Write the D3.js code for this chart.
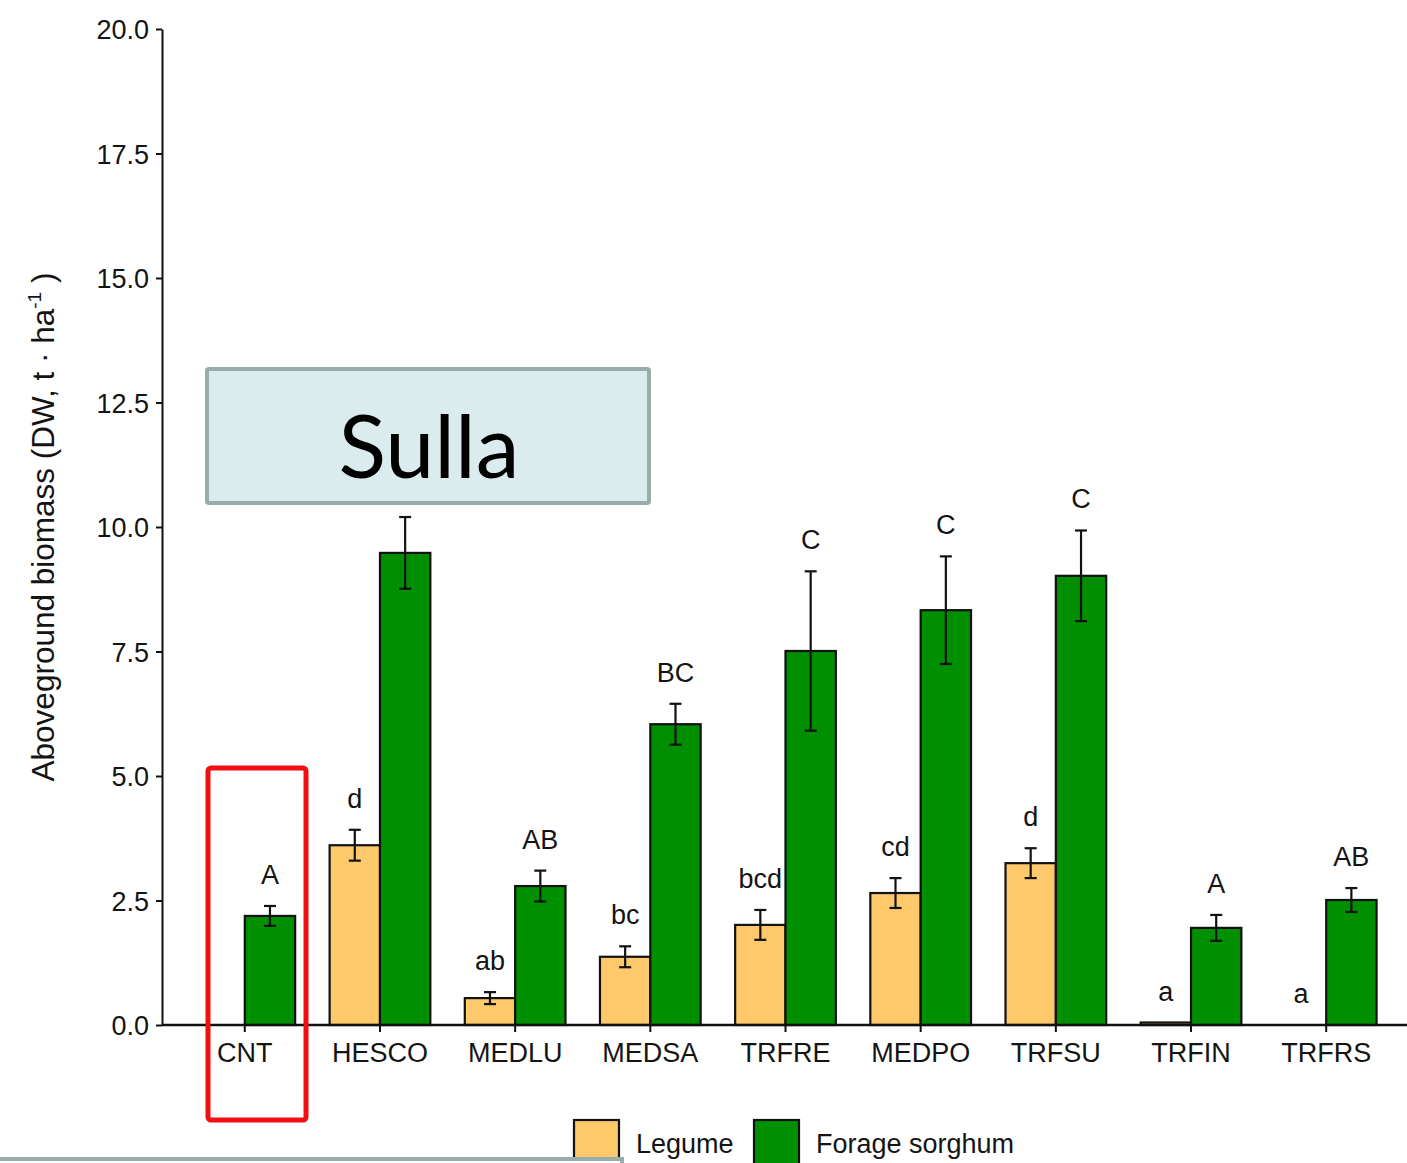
<!DOCTYPE html>
<html>
<head>
<meta charset="utf-8">
<script src="https://cdn.jsdelivr.net/npm/d3@7"></script>
<style>
  html, body { margin: 0; padding: 0; background: #fff; }
  svg { display: block; }
</style>
</head>
<body>
<svg id="chart" width="1407" height="1163"></svg>
<script>
// Aboveground biomass of legume and forage sorghum per intercrop treatment
const categories = ["CNT", "HESCO", "MEDLU", "MEDSA", "TRFRE", "MEDPO", "TRFSU", "TRFIN", "TRFRS"];
const legumeMean = [null, 3.61, 0.54, 1.37, 2.01, 2.65, 3.25, 0.05, 0];
const legumeSE = [null, 0.31, 0.12, 0.21, 0.30, 0.30, 0.30, null, null];
const legumeLetters = ["", "d", "ab", "bc", "bcd", "cd", "d", "a", "a"];
const sorghumMean = [2.19, 9.48, 2.79, 6.04, 7.51, 8.33, 9.02, 1.95, 2.51];
const sorghumSE = [0.20, 0.72, 0.31, 0.41, 1.60, 1.08, 0.91, 0.26, 0.24];
const sorghumLetters = ["A", "", "AB", "BC", "C", "C", "C", "A", "AB"];
const yTicks = [0, 2.5, 5, 7.5, 10, 12.5, 15, 17.5, 20];
const seriesNames = ["Legume", "Forage sorghum"];
const seriesColors = ["#fdc96b", "#008f00"];

const svg = d3.select("#chart");
const font = "'Liberation Sans', Arial, sans-serif";
const textColor = "#141414";

const x = d3.scaleBand()
  .domain(categories)
  .range([162, 1409])
  .paddingInner(0.255)
  .paddingOuter(0.24);
const sub = d3.scaleBand().domain([0, 1]).range([0, x.bandwidth()]);
const y = d3.scaleLinear().domain([0, 20]).range([1025, 29]);

// rows of bar records
const rows = [];
categories.forEach((c, i) => {
  rows.push({ cat: c, s: 0, mean: legumeMean[i], se: legumeSE[i], letter: legumeLetters[i] });
  rows.push({ cat: c, s: 1, mean: sorghumMean[i], se: sorghumSE[i], letter: sorghumLetters[i] });
});

// y axis
const yAxis = d3.axisLeft(y).tickValues(yTicks).tickFormat(d3.format(".1f")).tickSize(6).tickSizeOuter(0);
const gy = svg.append("g").attr("transform", "translate(162,0)").call(yAxis);
gy.select(".domain").attr("stroke", "#111").attr("stroke-width", 2);
gy.selectAll(".tick line").attr("stroke", "#111").attr("stroke-width", 2);
gy.selectAll(".tick text")
  .attr("font-family", font).attr("font-size", 27).attr("fill", textColor)
  .attr("x", -13).attr("dy", "0.36em");

// bars
const bars = rows.filter(d => d.mean !== null && d.mean > 0);
svg.append("g").selectAll("rect").data(bars).join("rect")
  .attr("x", d => x(d.cat) + sub(d.s))
  .attr("y", d => y(d.mean))
  .attr("width", sub.bandwidth())
  .attr("height", d => y(0) - y(d.mean))
  .attr("fill", d => seriesColors[d.s])
  .attr("stroke", "#111")
  .attr("stroke-width", 2.2);

// error bars
const errs = rows.filter(d => d.se !== null && d.mean !== null);
const eg = svg.append("g").attr("stroke", "#111").attr("stroke-width", 2.2);
errs.forEach(d => {
  const cx = x(d.cat) + sub(d.s) + sub.bandwidth() / 2;
  const y1 = y(d.mean + d.se), y2 = y(d.mean - d.se);
  eg.append("line").attr("x1", cx).attr("x2", cx).attr("y1", y1).attr("y2", y2);
  eg.append("line").attr("x1", cx - 6).attr("x2", cx + 6).attr("y1", y1).attr("y2", y1);
  eg.append("line").attr("x1", cx - 6).attr("x2", cx + 6).attr("y1", y2).attr("y2", y2);
});

// significance letters
svg.append("g").selectAll("text").data(rows.filter(d => d.letter)).join("text")
  .attr("x", d => x(d.cat) + sub(d.s) + sub.bandwidth() / 2)
  .attr("y", d => y((d.mean || 0) + (d.se || 0)) - 22)
  .attr("text-anchor", "middle")
  .attr("font-family", font).attr("font-size", 27).attr("fill", textColor)
  .text(d => d.letter);

// x axis
const xAxis = d3.axisBottom(x).tickSize(7).tickSizeOuter(0);
const gx = svg.append("g").attr("transform", "translate(0,1025)").call(xAxis);
gx.select(".domain").attr("d", "M162,0H1407").attr("stroke", "#111").attr("stroke-width", 2.4);
gx.selectAll(".tick line").attr("stroke", "#111").attr("stroke-width", 2);
gx.selectAll(".tick text")
  .attr("font-family", font).attr("font-size", 27).attr("fill", textColor)
  .attr("y", 18).attr("dy", "0.71em");

// y axis title
const yt = svg.append("text")
  .attr("transform", "translate(54,527) rotate(-90)")
  .attr("text-anchor", "middle")
  .attr("font-family", font).attr("font-size", 31.5).attr("fill", textColor);
yt.append("tspan").text("Aboveground biomass (DW, t · ha");
yt.append("tspan").attr("font-size", 19).attr("dy", -13).text("-1");
yt.append("tspan").attr("dy", 13).text(" )");

// title box
svg.append("rect")
  .attr("x", 207).attr("y", 369).attr("width", 442).attr("height", 134)
  .attr("fill", "#daecee").attr("stroke", "#9aabab").attr("stroke-width", 4).attr("rx", 2);
svg.append("text")
  .attr("x", 429).attr("y", 478)
  .attr("text-anchor", "middle")
  .attr("font-family", "Lato, 'Open Sans', sans-serif").attr("font-size", 88).attr("fill", "#000")
  .text("Sulla");

// highlight frame around the control
svg.append("rect")
  .attr("x", 208).attr("y", 768).attr("width", 98).attr("height", 352)
  .attr("fill", "none").attr("stroke", "#f01010").attr("stroke-width", 5).attr("rx", 3);

// legend
const lg = svg.append("g");
const legendX = [574, 754];
seriesNames.forEach((n, i) => {
  lg.append("rect")
    .attr("x", legendX[i]).attr("y", 1120).attr("width", 45).attr("height", 50)
    .attr("fill", seriesColors[i]).attr("stroke", "#111").attr("stroke-width", 2.2);
  lg.append("text")
    .attr("x", legendX[i] + 62).attr("y", 1143).attr("dy", "0.36em")
    .attr("font-family", font).attr("font-size", 27).attr("fill", textColor)
    .text(n);
});

// edge of a neighbouring panel frame
svg.append("rect")
  .attr("x", -10).attr("y", 1159).attr("width", 632).attr("height", 30)
  .attr("fill", "#fff").attr("stroke", "#9aabab").attr("stroke-width", 4);
</script>
</body>
</html>
